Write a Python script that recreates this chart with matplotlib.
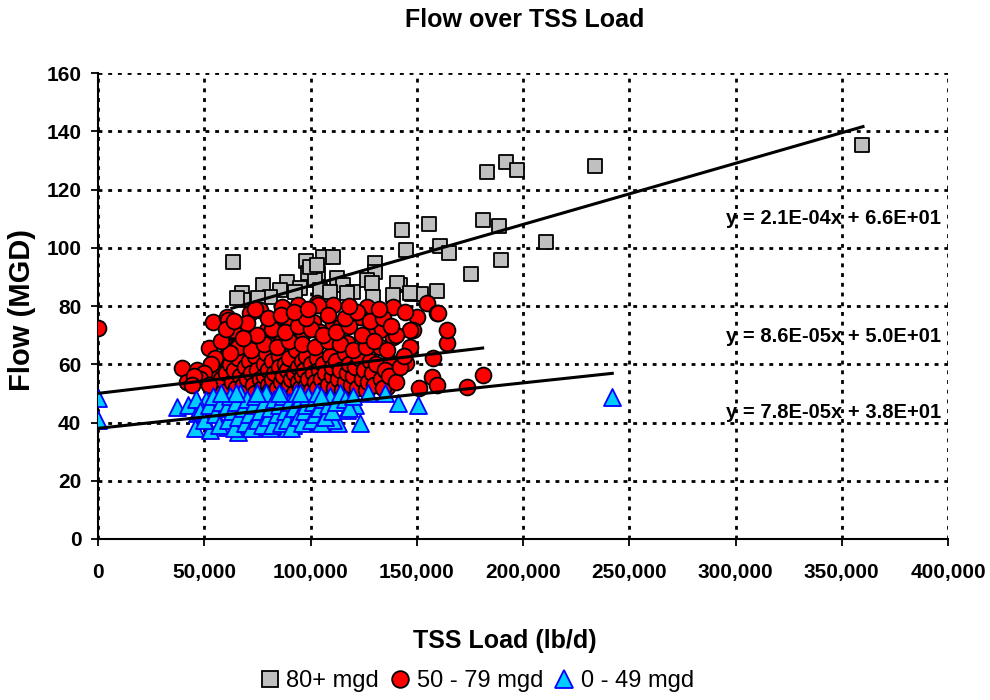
import matplotlib
matplotlib.use("Agg")
import matplotlib.pyplot as plt
from matplotlib.lines import Line2D
from matplotlib.ticker import FuncFormatter

plt.rcParams['font.family'] = ['Liberation Sans', 'DejaVu Sans']

# TSS load in thousands of lb/d, flow in MGD
gray_x = [359.5, 233.9, 192, 197, 183, 211, 155.8, 181, 188.7, 145, 143, 161, 165, 189.6,
          175.5, 147.8, 152, 159.5, 142, 63.4, 97.9, 105.9, 110.6, 98.8, 103.5, 130.4, 130.4,
          77.6, 88.9, 85.6, 95, 102, 112.5, 115.3, 120, 126.6, 129, 140.7, 139, 146.8,
          67.8, 68.2, 80.9, 75.3, 104.5, 109, 92.7, 117, 129.4, 65.4, 99.8, 103]
gray_y = [135.3, 128, 129.4, 126.7, 126, 102, 108.2, 109.5, 107.5, 99.2, 106, 100.6, 98.2, 95.8,
          91, 84.1, 84.1, 85.2, 87.2, 95, 95.6, 96.9, 96.9, 91.3, 91.3, 94.8, 91.7,
          87.2, 88.2, 85.5, 86.2, 88.9, 89.6, 87.2, 84.8, 88.9, 87.9, 87.9, 83.8, 84.5,
          84.5, 82.1, 83.1, 82.7, 85.5, 84.8, 84.8, 84.5, 83.1, 82.7, 93.4, 94]

red_x = [0, 181, 173.5, 157, 159.4, 151, 157.7, 164, 164, 154.7, 159.4, 150, 148, 145, 132.7,
         139, 132.7, 54, 52, 39.4, 46.4, 41.7, 54, 60.5, 62, 65, 71.5, 76, 87, 94, 102.9, 110.6,
         89.4, 82.4, 101, 104.5, 88.8, 91.8, 81, 70, 63.5, 58.8, 66.8, 76, 110.6,
         61, 86.4, 103.5, 126.4, 139, 144.5, 160, 146.8, 146.8, 132.7, 137.4, 129.4, 120,
         126.6, 136, 58.2, 63.5, 65.4, 79.5, 90.4, 113.9, 123.3, 126.4, 117, 107.6, 96.5, 85.6,
         56, 58, 60, 61, 62, 63, 64, 65, 66, 67, 68, 69, 70, 70, 71, 72, 73, 74, 74, 75, 76, 77,
         78, 78, 79, 80, 80, 81, 82, 82, 83, 84, 85, 85, 86, 87, 88, 88, 89, 90, 90, 91, 92, 92,
         93, 94, 94, 95, 96, 96, 97, 98, 98, 99, 100, 100, 101, 102, 103, 103, 104, 105, 106,
         106, 107, 108, 109, 110, 110, 111, 112, 113, 114, 115, 116, 116, 117, 118, 119, 120,
         121, 122, 123, 124, 125, 126, 127, 128, 129, 130, 131, 133, 134, 135, 137, 140, 142,
         66, 72, 78, 84, 90, 96, 102, 108, 114, 120, 126, 75, 82, 88, 94, 100, 106, 112, 118,
         124, 130, 136, 140, 144, 70, 98, 108, 116, 122, 128, 134, 138, 80, 86, 62, 58, 55, 53,
         50, 48, 45, 52, 44, 60, 64, 68, 74, 92, 99, 118, 132]
red_y = [72.6, 56.3, 52.3, 55.6, 52.9, 51.8, 62.1, 67.3, 71.8, 81, 77.6, 76.2, 71.8, 60.4, 59.1,
         69.4, 71.8, 74.6, 65.6, 58.7, 58, 54, 58, 76.3, 73.5, 70.7, 77.6, 78.6, 79.3, 80.3, 81,
         80.3, 75.2, 74.6, 74.6, 71.2, 69.5, 67.3, 66.6, 67.3, 66, 62.1, 62.6, 61.5, 74.2,
         75.2, 79.8, 80.3, 79.8, 79.8, 78, 77.6, 66, 71.8, 66, 60.9, 58, 54,
         51.2, 52.3, 53.6, 71.8, 66, 71.8, 75.2, 72.9, 76.3, 70.7, 67.3, 69.5, 70.7, 67.3,
         52, 55, 57, 51, 60, 54, 58, 52, 62, 56, 53, 59, 51, 55, 61, 57, 53, 63, 50, 58, 55, 52,
         60, 56, 64, 53, 58, 51, 61, 55, 57, 52, 63, 59, 54, 56, 51, 60, 58, 53, 62, 55, 57, 50,
         65, 59, 54, 52, 61, 56, 58, 53, 63, 55, 51, 60, 57, 54, 62, 52, 58, 55, 60,
         51, 57, 53, 63, 56, 59, 52, 61, 55, 58, 51, 64, 54, 57, 60, 53, 56,
         59, 52, 62, 55, 58, 51, 54, 61, 57, 53, 60, 55, 52, 58, 56, 54, 59,
         66, 65, 67, 66, 68, 67, 66, 68, 67, 65, 66, 70, 72, 71, 73, 72, 70, 71, 73,
         70, 68, 65, 70, 63, 74, 76, 77, 76, 78, 75, 76, 73, 76, 77, 64, 68, 62, 60,
         57, 55, 56, 53, 53, 72, 75, 69, 79, 78, 79, 80, 79]

blue_x = [0, 0, 241.7, 150.6, 141, 135, 127, 123.3, 117, 113, 109, 99.8, 91.8, 121, 85.6,
          37, 42.4, 46.4, 45.6, 51, 55.8, 52.7, 60.5, 65.9, 73, 81, 88.8, 99.8, 99.8, 107.6,
          110.6,
          46, 48, 50, 52, 54, 55, 57, 58, 60, 61, 62, 63, 64, 65, 66, 67, 68, 69, 70, 71, 72,
          73, 74, 75, 76, 77, 78, 79, 80, 81, 82, 83, 84, 85, 86, 87, 88, 89, 90, 91, 92, 93,
          94, 95, 96, 97, 98, 99, 100, 101, 102, 103, 104, 105, 106, 107, 108, 109, 110, 112,
          114, 116, 118, 120, 105, 95, 85, 75, 65, 58]
blue_y = [48.4, 40.9, 48.9, 46, 46.6, 50, 50, 39.8, 44.3, 39.8, 42, 40.3, 39.1, 46, 38.6,
          45.4, 46, 43.2, 38.1, 47.7, 45.4, 37.4, 38.6, 36.8, 38.1, 38.1, 38.1, 40.9, 44.3, 44.3,
          40.9,
          48, 44, 41, 46, 49, 43, 39, 47, 45, 41, 49, 44, 38, 47, 42, 50, 45, 40, 48, 43, 38,
          46, 49, 41, 44, 39, 47, 50, 42, 45, 39, 48, 43, 46, 40, 49, 44, 41, 47, 38, 45, 50,
          42, 48, 40, 44, 46, 49, 41, 47, 43, 50, 45, 40, 48, 42, 46, 49, 44, 47,
          50, 48, 45, 49, 49, 50, 50, 50, 50, 50]

# trend lines (slope per lb/d, intercept) and their x ranges in thousands
trend_coef = [(2.1e-4, 66), (8.6e-5, 50), (7.8e-5, 38)]
trend_range = [(63, 360), (0, 181), (0, 242)]
trend_text = ["y = 2.1E-04x + 6.6E+01", "y = 8.6E-05x + 5.0E+01", "y = 7.8E-05x + 3.8E+01"]
text_y = [110.2, 69.7, 43.6]

fig = plt.figure(figsize=(9.9, 7), dpi=100)
ax = fig.add_axes([0.099, 0.23, 0.8586, 0.6657])

ax.scatter(gray_x, gray_y, marker='s', s=110, c='#c0c0c0', edgecolors='black', linewidths=1.3, zorder=3)
ax.scatter(red_x, red_y, marker='o', s=130, c='#ff0000', edgecolors='black', linewidths=1.3, zorder=4)
ax.scatter(blue_x, blue_y, marker='^', s=150, c='#00ccff', edgecolors='#0000ff', linewidths=1.3, zorder=5)

for (m, b), (x0, x1) in zip(trend_coef, trend_range):
    ax.plot([x0, x1], [m * x0 * 1000 + b, m * x1 * 1000 + b], color='black', lw=2.2, zorder=6)

for t, ty in zip(trend_text, text_y):
    ax.text(295.5, ty, t, fontsize=14.5, fontweight='bold', va='center', ha='left', zorder=7)

ax.set_xlim(0, 400)
ax.set_ylim(0, 160)
ax.set_xticks(range(0, 401, 50))
ax.set_yticks(range(0, 161, 20))
ax.xaxis.set_major_formatter(FuncFormatter(lambda v, p: f"{int(v * 1000):,}"))
ax.grid(True, color='black', linestyle=(0, (1.4, 2.1)), linewidth=2)
ax.set_axisbelow(True)
for s in ['top', 'right']:
    ax.spines[s].set_visible(False)
for s in ['left', 'bottom']:
    ax.spines[s].set_linewidth(1.5)
ax.tick_params(direction='out', length=5, width=1.3, labelsize=15)
ax.tick_params(axis='x', pad=12)
ax.tick_params(axis='y', pad=7)
for lbl in ax.get_xticklabels() + ax.get_yticklabels():
    lbl.set_fontweight('bold')

ax.set_xlabel("TSS Load (lb/d)", fontsize=18, fontweight='bold')
ax.xaxis.set_label_coords((505 - 98) / 850, -(629 - 539) / 466, transform=ax.transAxes)
ax.set_ylabel("Flow (MGD)", fontsize=21, fontweight='bold', va='center')
ax.yaxis.set_label_coords(-(98 - 22) / 850, (539 - 310) / 466, transform=ax.transAxes)
fig.text(525 / 990, 1 - 20 / 700, "Flow over TSS Load", fontsize=18, fontweight='bold', ha='center', va='center')

handles = [
    Line2D([], [], ls='none', marker='s', ms=12, mfc='#c0c0c0', mec='black', mew=1.3),
    Line2D([], [], ls='none', marker='o', ms=12, mfc='#ff0000', mec='black', mew=1.3),
    Line2D([], [], ls='none', marker='^', ms=13, mfc='#00ccff', mec='#0000ff', mew=1.3),
]
fig.legend(handles, ["80+ mgd", "50 - 79 mgd", "0 - 49 mgd"], loc='center',
           bbox_to_anchor=(477 / 990, 1 - 681 / 700), ncol=3, frameon=False, fontsize=17,
           handlelength=0.8, handletextpad=0.3, columnspacing=0.5)

fig.savefig("out.png", dpi=100)
